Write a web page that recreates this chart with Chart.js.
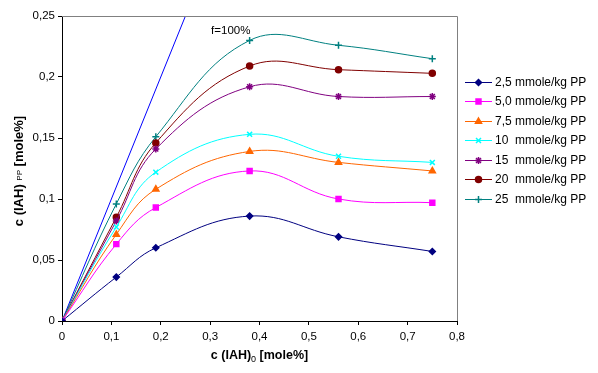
<!DOCTYPE html>
<html>
<head>
<meta charset="utf-8">
<script src="https://cdn.jsdelivr.net/npm/chart.js@4/dist/chart.umd.min.js"></script>
<style>
    body { margin: 0; background: #fff; }
</style>
</head>
<body>
<canvas id="myChart" width="598" height="373"></canvas>
<script>
let xValues = [0, 0.11, 0.19, 0.38, 0.56, 0.75];
let conc25 = [0, 0.036, 0.060, 0.086, 0.069, 0.057];
let conc50 = [0, 0.063, 0.093, 0.123, 0.100, 0.097];
let conc75 = [0, 0.071, 0.108, 0.139, 0.130, 0.123];
let conc10 = [0, 0.077, 0.122, 0.153, 0.135, 0.130];
let conc15 = [0, 0.082, 0.141, 0.192, 0.184, 0.184];
let conc20 = [0, 0.085, 0.146, 0.209, 0.206, 0.203];
let conc25b = [0, 0.096, 0.151, 0.230, 0.226, 0.215];
let seriesLabels = ['2,5 mmole/kg PP', '5,0 mmole/kg PP', '7,5 mmole/kg PP', '10  mmole/kg PP', '15  mmole/kg PP', '20  mmole/kg PP', '25  mmole/kg PP'];
let f100Line = [[0, 0], [0.25, 0.25]];
let xTicks = [0, 0.8, 0.1];
let yTicks = [0, 0.25, 0.05];

const FONT = '"Liberation Sans", Arial, sans-serif';

function toPoints(values) {
    return values.map((v, i) => ({ x: xValues[i], y: v }));
}


function commaLabel(value) {
    return String(Math.round(value * 100) / 100).replace('.', ',');
}


function createDataset(label, values, color, pointStyle, radius) {
    return {
        label,
        data: toPoints(values),
        borderColor: color,
        backgroundColor: color,
        borderWidth: 1,
        pointStyle,
        pointRadius: radius,
        pointBorderWidth: 1.5,
        tension: 0.4,
        fill: false
    };
}


function getDatasets() {
    const allValues = [conc25, conc50, conc75, conc10, conc15, conc20, conc25b];
    const colors = ['#000080', '#ff00ff', '#ff6600', '#00ffff', '#800080', '#800000', '#008080'];
    const styles = ['rectRot', 'rect', 'triangle', 'crossRot', 'star', 'circle', 'cross'];
    const radii = [3, 3.5, 3.5, 3.5, 3.5, 3, 3.5];
    let datasets = [];
    for (let i = 0; i < allValues.length; i++) {
        datasets.push(createDataset(seriesLabels[i], allValues[i], colors[i], styles[i], radii[i]));
    }
    datasets.push({
        label: 'f=100%',
        data: f100Line.map(p => ({ x: p[0], y: p[1] })),
        borderColor: '#0000ff',
        borderWidth: 1,
        pointRadius: 0,
        fill: false
    });
    return datasets;
}

/*Plugin: border, legend, titles*/

const excelDecor = {
    id: 'excelDecor',
    afterDraw(chart) {
        const ctx = chart.ctx;
        const area = chart.chartArea;
        const xs = chart.scales.x;
        const ys = chart.scales.y;
        ctx.save();

        ctx.strokeStyle = '#808080';
        ctx.lineWidth = 1;
        ctx.beginPath();
        ctx.moveTo(area.left, Math.round(area.top) + 0.5);
        ctx.lineTo(Math.round(area.right) + 0.5, Math.round(area.top) + 0.5);
        ctx.lineTo(Math.round(area.right) + 0.5, area.bottom);
        ctx.stroke();

        ctx.fillStyle = '#000';
        ctx.font = '11.5px ' + FONT;
        ctx.textBaseline = 'middle';
        ctx.fillText('f=100%', xs.getPixelForValue(0.302), ys.getPixelForValue(0.238));

        // legend
        ctx.font = '12px ' + FONT;
        chart.data.datasets.forEach((ds, i) => {
            if (i >= seriesLabels.length) return;
            const y = 81.5 + i * 19.5;
            ctx.strokeStyle = ds.borderColor;
            ctx.fillStyle = ds.backgroundColor;
            ctx.lineWidth = 1;
            ctx.beginPath();
            ctx.moveTo(465, Math.round(y) + 0.5);
            ctx.lineTo(492, Math.round(y) + 0.5);
            ctx.stroke();
            ctx.lineWidth = 1.5;
            Chart.helpers.drawPoint(ctx, { pointStyle: ds.pointStyle, radius: ds.pointRadius, rotation: 0, borderWidth: 1.5 }, 478.5, Math.round(y) + 0.5);
            ctx.fillStyle = '#000';
            ctx.textAlign = 'left';
            ctx.fillText(ds.label, 495, y + 1);
        });

        // x title
        const bold = 'bold 12.5px ' + FONT;
        const sub = '9px ' + FONT;
        ctx.textBaseline = 'alphabetic';
        ctx.font = bold;
        let w1 = ctx.measureText('c (IAH)').width;
        let w3 = ctx.measureText(' [mole%]').width;
        ctx.font = sub;
        let w2 = ctx.measureText('0').width;
        let x0 = (area.left + area.right) / 2 - (w1 + w2 + w3) / 2;
        ctx.font = bold;
        ctx.fillText('c (IAH)', x0, 359);
        ctx.font = sub;
        ctx.fillText('0', x0 + w1, 362);
        ctx.font = bold;
        ctx.fillText(' [mole%]', x0 + w1 + w2, 359);

        // y title
        ctx.translate(23, 171);
        ctx.rotate(-Math.PI / 2);
        ctx.font = 'bold 13px ' + FONT;
        let a1 = ctx.measureText('c (IAH) ').width;
        let a3 = ctx.measureText(' [mole%]').width;
        ctx.font = '8px ' + FONT;
        let a2 = ctx.measureText('PP').width;
        let y0 = -(a1 + a2 + a3) / 2;
        ctx.font = 'bold 13px ' + FONT;
        ctx.fillText('c (IAH) ', y0, 0);
        ctx.font = '8px ' + FONT;
        ctx.fillText('PP', y0 + a1, -1);
        ctx.font = 'bold 13px ' + FONT;
        ctx.fillText(' [mole%]', y0 + a1 + a2, 0);
        ctx.restore();
    }
};


function getAxis(range, pad, fitKey, fitSize) {
    return {
        type: 'linear',
        min: range[0],
        max: range[1],
        ticks: {
            stepSize: range[2],
            color: '#000',
            font: { family: FONT, size: 11.5 },
            padding: pad,
            callback: commaLabel
        },
        grid: {
            drawOnChartArea: false,
            drawTicks: true,
            tickLength: 4,
            color: '#000'
        },
        border: { display: true, color: '#000', width: 1 },
        afterFit(scale) {
            scale[fitKey] = fitSize;
        }
    };
}


function setChart() {
    const ctx = document.getElementById('myChart');
    new Chart(ctx, {
        type: 'line',
        data: { datasets: getDatasets() },
        options: {
            responsive: false,
            animation: false,
            layout: { padding: { top: 16, right: 141, bottom: 0, left: 0 } },
            plugins: {
                legend: { display: false },
                tooltip: { enabled: false }
            },
            scales: {
                x: getAxis(xTicks, 5, 'height', 52),
                y: getAxis(yTicks, 3, 'width', 62)
            }
        },
        plugins: [excelDecor]
    });
}

setChart();
</script>
</body>
</html>
